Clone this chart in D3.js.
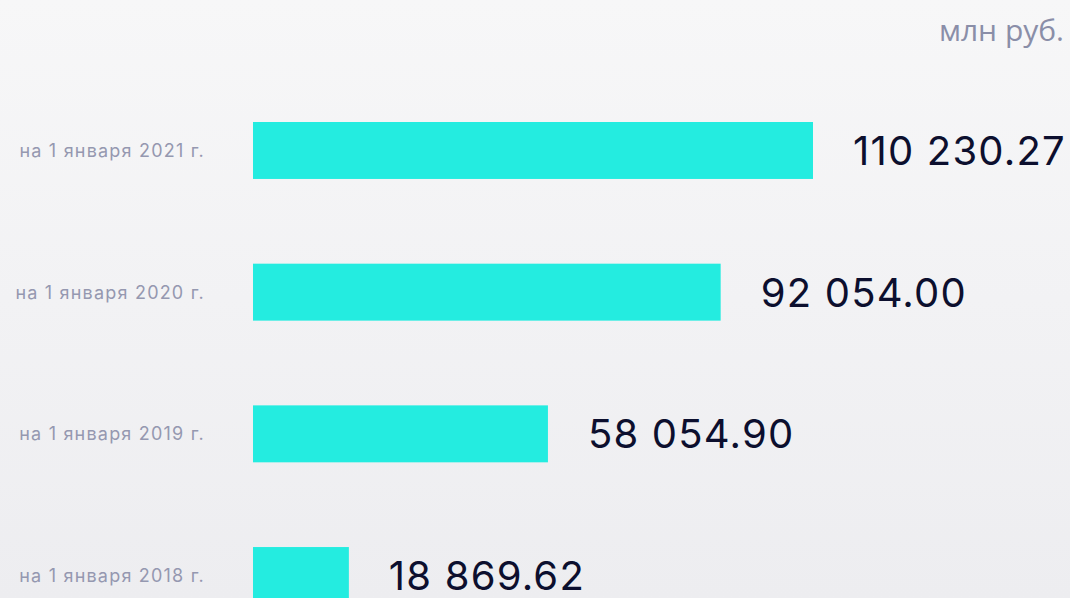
<!DOCTYPE html>
<html>
<head>
<meta charset="utf-8">
<script src="https://cdn.jsdelivr.net/npm/d3@7"></script>
<style>
  html, body { margin: 0; padding: 0; }
  body { width: 1070px; height: 598px; overflow: hidden; }
</style>
</head>
<body>
<div id="chart"></div>
<script>
// data
var categories = ["на 1 января 2021 г.", "на 1 января 2020 г.", "на 1 января 2019 г.", "на 1 января 2018 г."];
var values = [110230.27, 92054.00, 58054.90, 18869.62];
var unitLabel = "млн руб.";

var width = 1070,
    height = 598;

var svg = d3.select("#chart").append("svg")
    .attr("width", width)
    .attr("height", height);

// background gradient
var grad = svg.append("defs").append("linearGradient")
    .attr("id", "bg")
    .attr("x1", 0).attr("y1", 0).attr("x2", 0).attr("y2", 1);
grad.append("stop").attr("offset", "0%").attr("stop-color", "#f7f7f8");
grad.append("stop").attr("offset", "100%").attr("stop-color", "#ededf0");
svg.append("rect")
    .attr("width", width)
    .attr("height", height)
    .attr("fill", "url(#bg)");

var x = d3.scaleLinear()
    .domain([0, d3.max(values)])
    .range([253, 813]);

var y = d3.scaleBand()
    .domain(categories)
    .range([122, 604])
    .paddingInner(0.598)
    .paddingOuter(0);

var rows = svg.selectAll(".row")
    .data(categories.map(function(c, i) { return {name: c, value: values[i]}; }))
    .enter().append("g")
    .attr("class", "row");

rows.append("rect")
    .attr("x", x(0))
    .attr("y", function(d) { return y(d.name); })
    .attr("width", function(d) { return x(d.value) - x(0); })
    .attr("height", y.bandwidth())
    .attr("fill", "#24ece0");

// category labels, right aligned left of the bars
rows.append("text")
    .attr("x", 205)
    .attr("y", function(d) { return y(d.name) + y.bandwidth() / 2; })
    .attr("dy", "0.36em")
    .attr("text-anchor", "end")
    .style("font-family", "Inter, sans-serif")
    .style("font-size", "18px")
    .style("letter-spacing", "1.2px")
    .style("fill", "#9598b0")
    .text(function(d) { return d.name; });

var fmt = function(v) {
    return d3.format(",.2f")(v).replace(/,/g, " ");
};

rows.append("text")
    .attr("x", function(d) { return x(d.value) + 40; })
    .attr("y", function(d) { return y(d.name) + y.bandwidth() / 2; })
    .attr("dy", "0.36em")
    .style("font-family", "Inter, sans-serif")
    .style("font-size", "40px")
    .style("letter-spacing", "1.2px")
    .style("fill", "#0c0f2e")
    .text(function(d) { return fmt(d.value); });

svg.append("text")
    .attr("x", 1064)
    .attr("y", 41)
    .attr("text-anchor", "end")
    .style("font-family", "'Open Sans', sans-serif")
    .style("font-size", "30px")
    .style("fill", "#8a8ea8")
    .text(unitLabel);
</script>
</body>
</html>
